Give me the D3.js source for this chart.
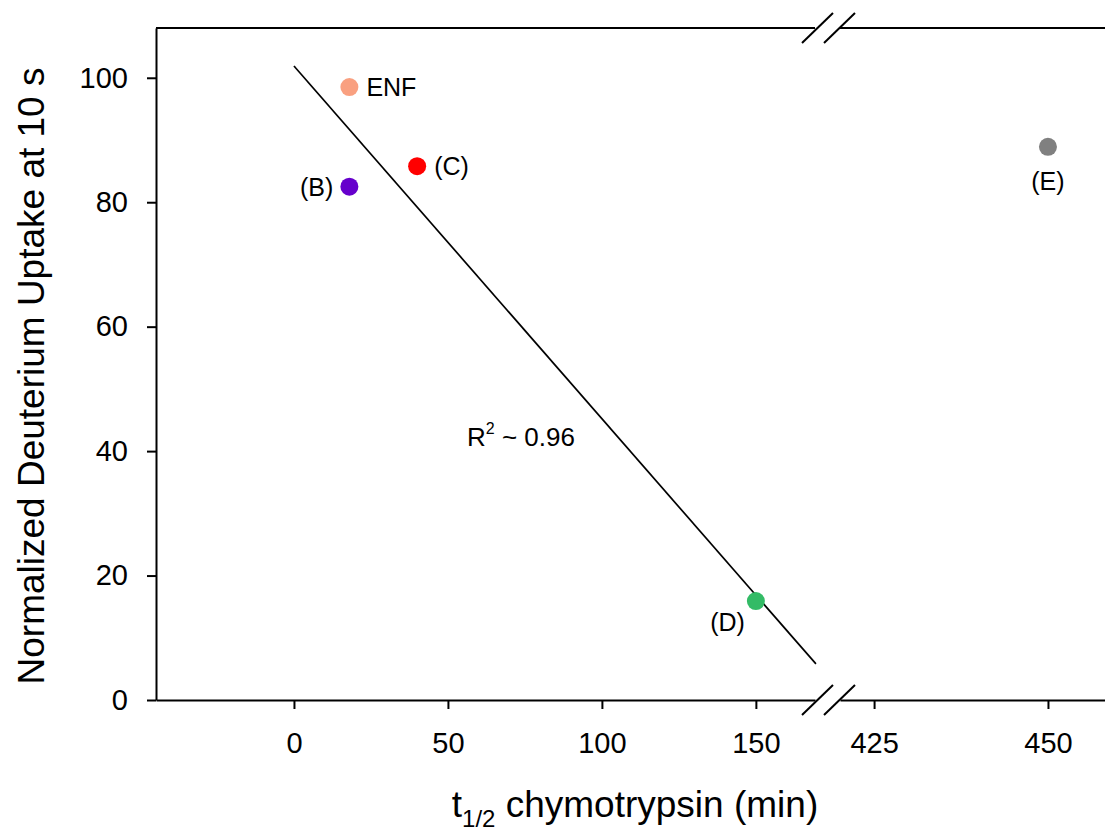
<!DOCTYPE html>
<html><head><meta charset="utf-8">
<script src="https://cdn.jsdelivr.net/npm/d3@7"></script>
<style>body{margin:0;background:#fff;} svg{display:block;} text{font-family:"Liberation Sans",Arial,sans-serif;fill:#000;}</style>
</head><body>
<svg id="c" width="1105" height="833"></svg>
<script>
const names = ["ENF", "(B)", "(C)", "(D)", "(E)"];
const halfLife = [18, 18, 40, 150, 450];
const uptake = [98.5, 82.5, 85.8, 15.9, 88.9];
const colors = ["#F9A080", "#6600CC", "#FF0000", "#33BB66", "#808080"];
const labelPos = ["right", "left", "right", "below-left", "below"];
const fitLine = [{x: 0, y: 101.9}, {x: 169.5, y: 5.8}];
const xTicksLeft = [0, 50, 100, 150];
const xTicksRight = [425, 450];
const yTicks = [0, 20, 40, 60, 80, 100];

(function(){
const svg = d3.select("#c");
const pTop = 28, pBottom = 700, pLeft = 156, brk1 = 815, brk2 = 840, pRight = 1105;
const y = d3.scaleLinear().domain([0, 108]).range([pBottom, pTop]);
const xL = d3.scaleLinear().domain([-44.8, 169.2]).range([pLeft, brk1]);
const xR = d3.scaleLinear().domain([420.1, 458.2]).range([brk2, pRight]);
const xpos = v => v > 300 ? xR(v) : xL(v);
const SW = 2;

// axes
const yAxis = svg.append("g").attr("transform", `translate(${pLeft},0)`)
  .call(d3.axisLeft(y).tickValues(yTicks).tickSize(9).tickPadding(19).tickSizeOuter(0));
const xAxisL = svg.append("g").attr("transform", `translate(0,${pBottom})`)
  .call(d3.axisBottom(xL).tickValues(xTicksLeft).tickSize(9).tickPadding(23).tickSizeOuter(0));
const xAxisR = svg.append("g").attr("transform", `translate(0,${pBottom})`)
  .call(d3.axisBottom(xR).tickValues(xTicksRight).tickSize(9).tickPadding(23).tickSizeOuter(0));
[yAxis, xAxisL, xAxisR].forEach(g => {
  g.selectAll("path").attr("stroke", "#000").attr("stroke-width", SW);
  g.selectAll("line").attr("stroke", "#000").attr("stroke-width", SW);
  g.selectAll("text").attr("font-size", 29).attr("font-family", "Liberation Sans, Arial, sans-serif").attr("fill", "#000");
});
// top frame
svg.append("line").attr("x1", pLeft).attr("x2", brk1).attr("y1", pTop).attr("y2", pTop).attr("stroke", "#000").attr("stroke-width", SW);
svg.append("line").attr("x1", brk2).attr("x2", pRight).attr("y1", pTop).attr("y2", pTop).attr("stroke", "#000").attr("stroke-width", SW);
// break marks
[pTop, pBottom].forEach(yy => {
  [802, 824].forEach(x0 => {
    svg.append("line").attr("x1", x0).attr("y1", yy + 15).attr("x2", x0 + 31).attr("y2", yy - 15)
      .attr("stroke", "#000").attr("stroke-width", SW);
  });
});

// fit line
svg.append("path").datum(fitLine)
  .attr("d", d3.line().x(d => xL(d.x)).y(d => y(d.y)))
  .attr("stroke", "#000").attr("stroke-width", 1.7).attr("fill", "none");

// points
const pts = names.map((n, i) => ({n, x: halfLife[i], y: uptake[i], c: colors[i], p: labelPos[i]}));
svg.selectAll("circle.pt").data(pts).join("circle")
  .attr("cx", d => xpos(d.x)).attr("cy", d => y(d.y)).attr("r", 9).attr("fill", d => d.c);
svg.selectAll("text.lbl").data(pts).join("text")
  .attr("font-size", 25)
  .attr("x", d => {
    const cx = xpos(d.x);
    if (d.p === "right") return cx + 17;
    if (d.p === "left") return cx - 16;
    if (d.p === "below-left") return cx - 11;
    return cx;
  })
  .attr("y", d => {
    const cy = y(d.y);
    if (d.p === "below-left") return cy + 30;
    if (d.p === "below") return cy + 43;
    return cy + 9;
  })
  .attr("text-anchor", d => d.p === "right" ? "start" : (d.p === "below" ? "middle" : "end"))
  .text(d => d.n);

// R2 annotation
const r2 = svg.append("text").attr("x", 467).attr("y", 446).attr("font-size", 26);
r2.append("tspan").text("R");
r2.append("tspan").attr("font-size", 16).attr("dy", -12).text("2");
r2.append("tspan").attr("dy", 12).text(" ~ 0.96");

// axis titles
const xt = svg.append("text").attr("x", 635).attr("y", 817).attr("font-size", 37).attr("text-anchor", "middle");
xt.append("tspan").text("t");
xt.append("tspan").attr("font-size", 24).attr("dy", 10).text("1/2");
xt.append("tspan").attr("dy", -10).text(" chymotrypsin (min)");
svg.append("text").attr("transform", "translate(44,376) rotate(-90)").attr("font-size", 37)
  .attr("text-anchor", "middle").text("Normalized Deuterium Uptake at 10 s");
})();
</script>
</body></html>
